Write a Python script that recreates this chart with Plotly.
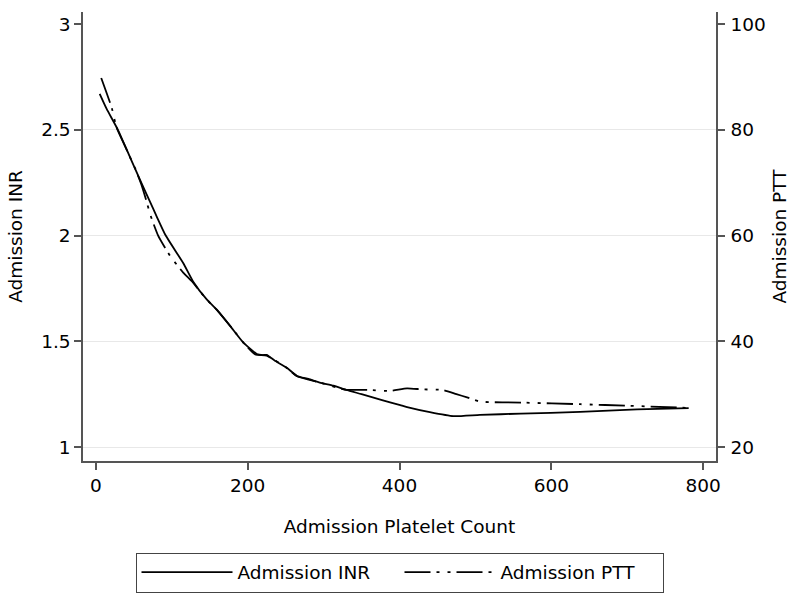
import plotly.graph_objects as go

# Admission INR (solid, left axis)
inr_platelet = [5, 14, 29, 45, 58, 70, 80, 92, 115, 128, 146, 159, 177, 194, 212, 220, 225, 235,
                251, 265, 280, 295, 313, 330, 350, 377, 401, 410, 440, 471, 506, 560, 638, 713, 781]
inr_values = [2.670, 2.600, 2.500, 2.370, 2.264, 2.170, 2.091, 2.000, 1.870, 1.783, 1.698, 1.651,
              1.572, 1.495, 1.440, 1.435, 1.436, 1.410, 1.376, 1.336, 1.322, 1.305, 1.290, 1.270,
              1.250, 1.222, 1.198, 1.189, 1.165, 1.146, 1.152, 1.158, 1.166, 1.178, 1.184]

# Admission PTT (dash-dot, right axis)
ptt_platelet = [7, 21, 27, 40, 52, 60, 66, 72, 82, 98, 115, 126, 146, 159, 177, 194, 210, 225, 251,
                265, 295, 330, 339, 360, 387, 410, 430, 457, 475, 489, 506, 563, 638, 704, 781]
ptt_values = [89.8, 84.1, 80.5, 76.4, 72.6, 69.6, 66.8, 63.8, 60.0, 56.1, 53.0, 51.4, 47.9, 46.0,
              42.9, 39.8, 37.5, 37.3, 35.0, 33.4, 32.2, 30.8, 30.8, 30.8, 30.6, 31.1, 30.9, 30.8,
              30.0, 29.4, 28.6, 28.4, 28.1, 27.8, 27.4]

x_ticks = [0, 200, 400, 600, 800]
inr_ticks = [1, 1.5, 2, 2.5, 3]
inr_ticktext = ["1", "1.5", "2", "2.5", "3"]
grid_ticks = [1, 1.5, 2, 2.5]
ptt_ticks = [20, 40, 60, 80, 100]

FONT = "DejaVu Sans"
FS = 18.5
AX = "#555555"
tfont = dict(family=FONT, size=FS, color="black")

fig = go.Figure()
fig.add_trace(go.Scatter(x=inr_platelet, y=inr_values, mode="lines", name="Admission INR",
                         line=dict(color="black", width=1.8, shape="spline", smoothing=0.5)))
fig.add_trace(go.Scatter(x=ptt_platelet, y=ptt_values, mode="lines", name="Admission PTT",
                         yaxis="y2",
                         line=dict(color="black", width=1.8, shape="spline", smoothing=0.5,
                                   dash="26px,6px,3px,8px,3px,6px")))
# invisible carrier so the grid axis is drawn
fig.add_trace(go.Scatter(x=[None], y=[None], yaxis="y3", showlegend=False, hoverinfo="skip"))

fig.update_layout(
    width=800, height=597,
    margin=dict(l=83, r=84, t=12, b=136, autoexpand=False),
    paper_bgcolor="white", plot_bgcolor="white",
    font=tfont,
    showlegend=True,
    legend=dict(orientation="h", x=0.5, xanchor="center", y=-0.204, yanchor="top",
                bordercolor="#444444", borderwidth=1, bgcolor="white",
                font=tfont, itemwidth=91,
                entrywidth=157, entrywidthmode="pixels"),
    xaxis=dict(range=[-17, 817], tickvals=x_ticks, showgrid=False, zeroline=False,
               automargin=False,
               showline=True, linecolor=AX, linewidth=1.5, ticks="outside", ticklen=7,
               tickcolor=AX, tickwidth=1.5, tickfont=tfont,
               title=dict(text="Admission Platelet Count", standoff=25, font=tfont)),
    yaxis=dict(range=[0.934, 3.057], tickvals=inr_ticks, ticktext=inr_ticktext,
               showgrid=False, zeroline=False, automargin=False,
               showline=True, linecolor=AX, linewidth=1.5, ticks="outside", ticklen=7,
               tickcolor=AX, tickwidth=1.5, tickfont=tfont, ticklabelstandoff=0,
               title=dict(text="Admission INR", standoff=14, font=tfont)),
    yaxis3=dict(range=[0.934, 3.057], tickvals=grid_ticks, overlaying="y", showticklabels=False,
                showgrid=True, gridcolor="#e8e8e8", gridwidth=1, zeroline=False,
                automargin=False, showline=False, ticks="", layer="below traces"),
    yaxis2=dict(range=[17.36, 102.28], tickvals=ptt_ticks, overlaying="y", side="right",
                showgrid=False, zeroline=False, automargin=False,
                showline=True, linecolor=AX, linewidth=1.5, ticks="outside", ticklen=7,
                tickcolor=AX, tickwidth=1.5, tickfont=tfont, ticklabelstandoff=2,
                title=dict(text="Admission PTT", standoff=8, font=tfont)),
)

fig.write_html("out.html", config={"displayModeBar": False},
               post_script="document.body.style.margin='0';")
